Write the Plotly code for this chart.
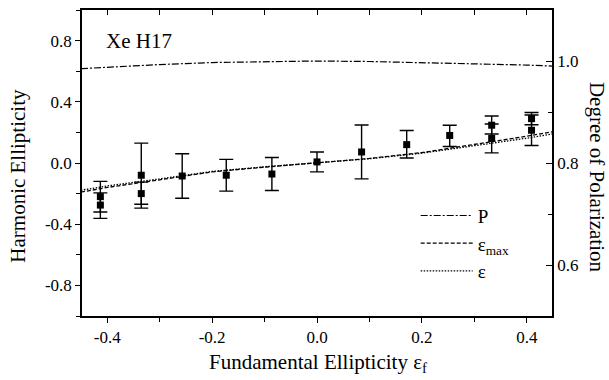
import plotly.graph_objects as go

# ---- data ----
ef_pts = [-0.413, -0.413, -0.335, -0.335, -0.257, -0.173, -0.086, 0.0, 0.085, 0.171, 0.253, 0.333, 0.333, 0.409, 0.409]
eh_pts = [-0.22, -0.275, -0.08, -0.20, -0.085, -0.08, -0.072, 0.007, 0.072, 0.12, 0.18, 0.247, 0.16, 0.29, 0.214]
err_plus = [0.10, 0.08, 0.21, 0.075, 0.145, 0.104, 0.108, 0.065, 0.176, 0.092, 0.067, 0.06, 0.095, 0.04, 0.10]
err_minus = [0.10, 0.087, 0.215, 0.07, 0.145, 0.104, 0.108, 0.065, 0.176, 0.087, 0.072, 0.057, 0.094, 0.04, 0.10]

ef_curve = [-0.45, -0.4, -0.3, -0.2, -0.1, 0.0, 0.1, 0.2, 0.3, 0.4, 0.45]
eps_max = [-0.19, -0.16, -0.11, -0.058, -0.027, 0.0, 0.03, 0.068, 0.12, 0.175, 0.205]
eps = [-0.178, -0.15, -0.104, -0.055, -0.025, 0.0, 0.028, 0.064, 0.112, 0.162, 0.19]
P = [0.985, 0.988, 0.993, 0.997, 0.999, 1.0, 0.999, 0.997, 0.995, 0.992, 0.990]

x_ticks = [-0.4, -0.2, 0.0, 0.2, 0.4]
x_ticklabels = ["-0.4", "-0.2", "0.0", "0.2", "0.4"]
y_ticks = [-0.8, -0.4, 0.0, 0.4, 0.8]
y_ticklabels = ["-0.8", "-0.4", "0.0", "0.4", "0.8"]
y2_ticks = [0.6, 0.8, 1.0]
y2_ticklabels = ["0.6", "0.8", "1.0"]

FONT = "Liberation Serif"

fig = go.Figure()

fig.add_trace(go.Scatter(
    x=ef_curve, y=P, mode="lines", name="P", yaxis="y2",
    line=dict(color="black", width=1.2, dash="7px,2px,2px,2px"),
))
fig.add_trace(go.Scatter(
    x=ef_curve, y=eps_max, mode="lines", name="ε<sub>max</sub>",
    line=dict(color="black", width=1.3, dash="4px,2px"),
))
fig.add_trace(go.Scatter(
    x=ef_curve, y=eps, mode="lines", name="ε",
    line=dict(color="black", width=1.3, dash="1.5px,1.5px"),
))
fig.add_trace(go.Scatter(
    x=ef_pts, y=eh_pts, mode="markers", showlegend=False,
    marker=dict(symbol="square", size=7, color="black"),
    error_y=dict(type="data", array=err_plus, arrayminus=err_minus,
                 color="black", thickness=1.4, width=7),
))
# invisible trace to carry the top mirror axis
fig.add_trace(go.Scatter(x=[ef_curve[0]], y=[eps[0]], xaxis="x2", mode="markers",
                         marker=dict(opacity=0), showlegend=False, hoverinfo="skip"))

axis_common = dict(showgrid=False, zeroline=False, linecolor="black", linewidth=1.6,
                   tickcolor="black", tickwidth=1.2,
                   tickfont=dict(family=FONT, size=17, color="black"))

fig.update_layout(
    width=609, height=380,
    margin=dict(l=82, r=57, t=10, b=64),
    paper_bgcolor="white", plot_bgcolor="white",
    font=dict(family=FONT, color="black"),
    xaxis=dict(range=[-0.448, 0.448], tickvals=x_ticks, ticktext=x_ticklabels,
               ticks="outside", ticklen=5,
               minor=dict(ticks="outside", ticklen=4, dtick=0.1, tick0=0.1, tickcolor="black", tickwidth=1.2),
               **axis_common),
    xaxis2=dict(range=[-0.448, 0.448], overlaying="x", side="top", anchor="y",
                showticklabels=False, ticks="inside", ticklen=5, dtick=0.1, tick0=0,
                showgrid=False, zeroline=False, showline=True, linecolor="black", linewidth=1.6,
                tickcolor="black", tickwidth=1.2),
    yaxis=dict(range=[-1.0, 1.0], tickvals=y_ticks, ticktext=y_ticklabels,
               ticks="outside", ticklen=5,
               minor=dict(ticks="outside", ticklen=4, dtick=0.4, tick0=0.2, tickcolor="black", tickwidth=1.2),
               **axis_common),
    yaxis2=dict(range=[0.5, 1.1], overlaying="y", side="right", anchor="x",
                tickvals=y2_ticks, ticktext=y2_ticklabels,
                ticks="inside", ticklen=6,
                minor=dict(ticks="inside", ticklen=4, dtick=0.2, tick0=0.7, tickcolor="black", tickwidth=1.2),
                **axis_common),
    legend=dict(x=0.71, y=0.39, xanchor="left", yanchor="top",
                bgcolor="rgba(0,0,0,0)", font=dict(family=FONT, size=19, color="black"),
                tracegroupgap=0, itemwidth=52),
    showlegend=True,
)

fig.add_annotation(text="Xe H17", x=-0.407, y=0.8, xref="x", yref="y",
                   xanchor="left", yanchor="middle", showarrow=False,
                   font=dict(family=FONT, size=21, color="black"))
fig.add_annotation(text="Harmonic Ellipticity", x=-0.138, y=0.459, xref="paper", yref="paper",
                   textangle=-90, showarrow=False, xanchor="center", yanchor="middle",
                   font=dict(family=FONT, size=21, color="black"))
fig.add_annotation(text="Degree of Polarization", x=1.096, y=0.454, xref="paper", yref="paper",
                   textangle=90, showarrow=False, xanchor="center", yanchor="middle",
                   font=dict(family=FONT, size=21, color="black"))
fig.add_annotation(text="Fundamental Ellipticity ε<sub>f</sub>", x=0.503, y=-0.155, xref="paper", yref="paper",
                   showarrow=False, xanchor="center", yanchor="middle",
                   font=dict(family=FONT, size=21, color="black"))

fig.write_html("out.html")
